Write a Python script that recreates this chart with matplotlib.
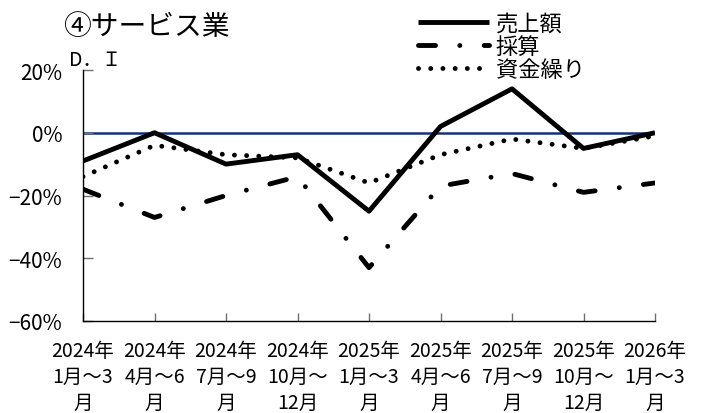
import matplotlib
matplotlib.use("Agg")
import matplotlib.pyplot as plt

plt.rcParams['font.family'] = ['Noto Sans CJK JP', 'DejaVu Sans']

# Quarterly D.I. for the service industry (percent)
periods = ["2024年\n1月～3\n月", "2024年\n4月～6\n月", "2024年\n7月～9\n月",
           "2024年\n10月～\n12月", "2025年\n1月～3\n月", "2025年\n4月～6\n月",
           "2025年\n7月～9\n月", "2025年\n10月～\n12月", "2026年\n1月～3\n月"]
sales = [-9, 0, -10, -7, -25, 2, 14, -5, 0]          # 売上額
profit = [-18, -27, -20, -14, -43, -17, -13, -19, -16]  # 採算
funding = [-14, -4, -7, -8, -16, -7, -2, -5, -1]       # 資金繰り
series_names = ["売上額", "採算", "資金繰り"]
y_ticks = [-60, -40, -20, 0, 20]
y_tick_labels = ["−60%", "−40%", "−20%", "0%", "20%"]

W, H = 701, 414
fig = plt.figure(figsize=(W / 100, H / 100), dpi=100)
ax = fig.add_axes([83 / W, (H - 322) / H, (655 - 83) / W, (322 - 71) / H])

x = list(range(len(periods)))

ax.axhline(0, color='#16307A', lw=1.8, zorder=1)

lw = 3.5
l_profit, = ax.plot(x, profit, color='black', lw=lw, dashes=(3.5, 5.0, 0.01, 5.0),
                    dash_capstyle='round', dash_joinstyle='round', zorder=2)
l_funding, = ax.plot(x, funding, color='black', lw=3.5, dashes=(0.01, 2.5),
                     dash_capstyle='round', dash_joinstyle='round', zorder=3)
l_sales, = ax.plot(x, sales, color='black', lw=lw, solid_capstyle='butt',
                   solid_joinstyle='round', zorder=4)

ax.set_xlim(0, len(periods) - 1)
ax.set_ylim(-60, 20)
ax.set_xticks(x)
ax.set_xticklabels(periods, fontsize=14, linespacing=1.3)
ax.set_yticks(y_ticks)
ax.set_yticklabels(y_tick_labels, fontsize=15)

for side in ('top', 'right'):
    ax.spines[side].set_visible(False)
for side in ('left', 'bottom'):
    ax.spines[side].set_linewidth(1.0)
    ax.spines[side].set_color('black')

ax.tick_params(axis='x', direction='in', length=6, width=1, color='#707070', pad=14)
ax.tick_params(axis='y', direction='in', length=7, width=1, color='#707070', pad=15)

fig.text(63 / W, 1 - 27 / H, "④サービス業", fontsize=20, va='center', ha='left')
fig.text(69 / W, 1 - 61 / H, "D．Ｉ", fontsize=14, va='center', ha='left')

ax.legend([l_sales, l_profit, l_funding], series_names,
          loc='upper left', bbox_to_anchor=(418 / W, 1 - 13 / H),
          bbox_transform=fig.transFigure, frameon=False, fontsize=16,
          handlelength=3.2, handletextpad=0.3, labelspacing=0.0,
          borderpad=0, borderaxespad=0)

fig.savefig("out.png", dpi=100)
